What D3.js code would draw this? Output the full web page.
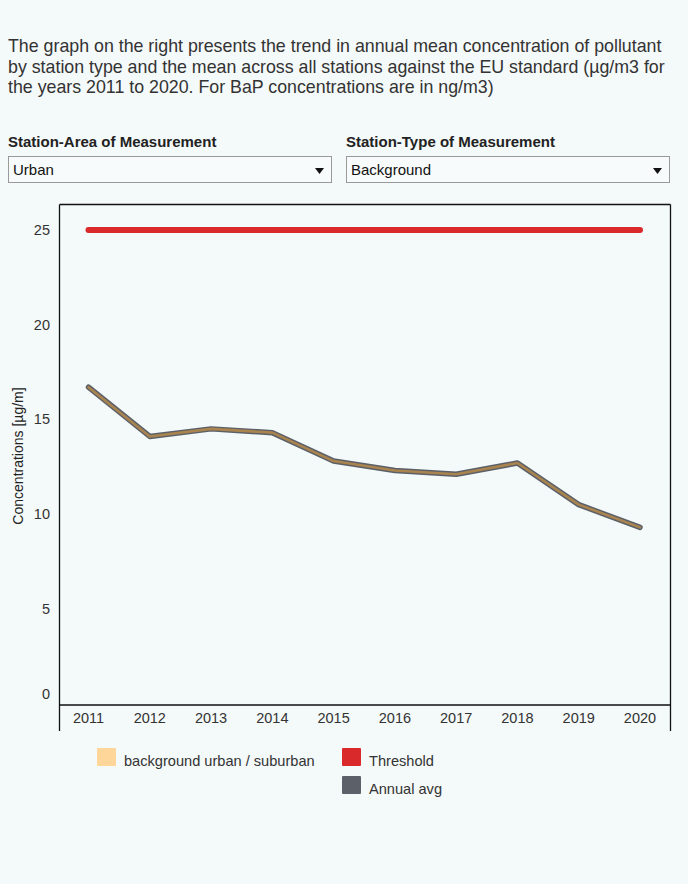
<!DOCTYPE html>
<html>
<head>
<meta charset="utf-8">
<script src="https://d3js.org/d3.v7.min.js"></script>
<style>
  html, body { margin: 0; padding: 0; background: #f4f9f9; }
  body { width: 688px; height: 884px; overflow: hidden; font-family: 'Liberation Sans', Arial, sans-serif; }
  svg text { font-family: 'Liberation Sans', Arial, sans-serif; }
</style>
</head>
<body>
<svg id="chart" width="688" height="884"></svg>
<script>
// chart values
const years = [2011, 2012, 2013, 2014, 2015, 2016, 2017, 2018, 2019, 2020];
const stationValues = [16.7, 14.1, 14.5, 14.3, 12.8, 12.3, 12.1, 12.7, 10.5, 9.3];
const annualAvg = [16.7, 14.1, 14.5, 14.3, 12.8, 12.3, 12.1, 12.7, 10.5, 9.3];
const threshold = [25, 25, 25, 25, 25, 25, 25, 25, 25, 25];
const yTicks = [0, 5, 10, 15, 20, 25];

const titleLines = [
  "The graph on the right presents the trend in annual mean concentration of pollutant",
  "by station type and the mean across all stations against the EU standard (\u00b5g/m3 for",
  "the years 2011 to 2020. For BaP concentrations are in ng/m3)"
];
const filters = [
  { label: "Station-Area of Measurement", value: "Urban" },
  { label: "Station-Type of Measurement", value: "Background" }
];
const legendItems = [
  { name: "background urban / suburban", color: "#ffd699" },
  { name: "Threshold", color: "#d9292b" },
  { name: "Annual avg", color: "#5c6068" }
];

const svg = d3.select("#chart");

// intro text
svg.append("text")
  .attr("x", 8)
  .attr("y", 52)
  .attr("font-size", 17.8)
  .attr("fill", "#333")
  .selectAll("tspan")
  .data(titleLines)
  .enter().append("tspan")
  .attr("x", 8)
  .attr("dy", (d, i) => i === 0 ? 0 : 20.5)
  .text(d => d);

// fake dropdowns
const boxX = [8, 346];
const boxW = 323;
const dd = svg.selectAll("g.filter")
  .data(filters)
  .enter().append("g")
  .attr("class", "filter")
  .attr("transform", (d, i) => `translate(${boxX[i]},0)`);

dd.append("text")
  .attr("x", 0)
  .attr("y", 147)
  .attr("font-size", 15)
  .attr("font-weight", "bold")
  .attr("fill", "#222")
  .text(d => d.label);

dd.append("rect")
  .attr("x", 0.5)
  .attr("y", 156.5)
  .attr("width", boxW)
  .attr("height", 26)
  .attr("fill", "#f7fbfb")
  .attr("stroke", "#9a9a9a");

dd.append("text")
  .attr("x", 5)
  .attr("y", 175)
  .attr("font-size", 15)
  .attr("fill", "#111")
  .text(d => d.value);

dd.append("path")
  .attr("d", `M${boxW - 16},168 l9,0 l-4.5,6 z`)
  .attr("fill", "#111");

// plot area
const plotL = 59.5, plotR = 670.5, plotT = 204.5, axisY = 705, frameB = 731;

const x = d3.scalePoint()
  .domain(years)
  .range([88.5, 640]);

const y = d3.scaleLinear()
  .domain([0, 25])
  .range([703.5, 230]);

svg.append("rect")
  .attr("x", plotL)
  .attr("y", plotT)
  .attr("width", plotR - plotL)
  .attr("height", axisY - plotT)
  .attr("fill", "#f4f9f9")
  .attr("stroke", "none");

const frame = svg.append("g").attr("stroke", "#111").attr("stroke-width", 1.3);
frame.append("line").attr("x1", plotL).attr("x2", plotR).attr("y1", plotT).attr("y2", plotT);
frame.append("line").attr("x1", plotL).attr("x2", plotL).attr("y1", plotT).attr("y2", frameB);
frame.append("line").attr("x1", plotR).attr("x2", plotR).attr("y1", plotT).attr("y2", frameB);
frame.append("line").attr("x1", plotL).attr("x2", plotR).attr("y1", axisY).attr("y2", axisY);

// y tick labels
svg.append("g")
  .selectAll("text")
  .data(yTicks)
  .enter().append("text")
  .attr("x", 50)
  .attr("y", d => d === 0 ? y(d) - 10 : y(d))
  .attr("dy", "0.35em")
  .attr("text-anchor", "end")
  .attr("font-size", 14.5)
  .attr("fill", "#333")
  .text(d => d);

// x tick labels
svg.append("g")
  .selectAll("text")
  .data(years)
  .enter().append("text")
  .attr("x", d => x(d))
  .attr("y", 718)
  .attr("dy", "0.35em")
  .attr("text-anchor", "middle")
  .attr("font-size", 14.5)
  .attr("fill", "#333")
  .text(d => d);

// y axis title
svg.append("text")
  .attr("transform", "translate(23,456) rotate(-90)")
  .attr("text-anchor", "middle")
  .attr("font-size", 14)
  .attr("fill", "#222")
  .text("Concentrations [\u00b5g/m]");

const line = d3.line()
  .x((d, i) => x(years[i]))
  .y(d => y(d));

// threshold
svg.append("path")
  .datum(threshold)
  .attr("d", line)
  .attr("fill", "none")
  .attr("stroke", "#d9292b")
  .attr("stroke-width", 6)
  .attr("stroke-linecap", "round");

// annual average (underneath)
svg.append("path")
  .datum(annualAvg)
  .attr("d", line)
  .attr("fill", "none")
  .attr("stroke", "#5c6068")
  .attr("stroke-width", 5.5)
  .attr("stroke-linecap", "round")
  .attr("stroke-linejoin", "round");

// station series on top, blended with the gray
svg.append("path")
  .datum(stationValues)
  .attr("d", line)
  .attr("fill", "none")
  .attr("stroke", "#a9844f")
  .attr("stroke-width", 2.6)
  .attr("stroke-linecap", "round")
  .attr("stroke-linejoin", "round");

// legend
const legendPos = [[97, 748], [342, 748], [342, 776]];
const lg = svg.selectAll("g.legend")
  .data(legendItems)
  .enter().append("g")
  .attr("class", "legend")
  .attr("transform", (d, i) => `translate(${legendPos[i][0]},${legendPos[i][1]})`);

lg.append("rect")
  .attr("width", 19)
  .attr("height", 18)
  .attr("rx", 1)
  .attr("fill", d => d.color);

lg.append("text")
  .attr("x", 27)
  .attr("y", 12.5)
  .attr("dy", "0.35em")
  .attr("font-size", 14.6)
  .attr("fill", "#333")
  .text(d => d.name);
</script>
</body>
</html>
